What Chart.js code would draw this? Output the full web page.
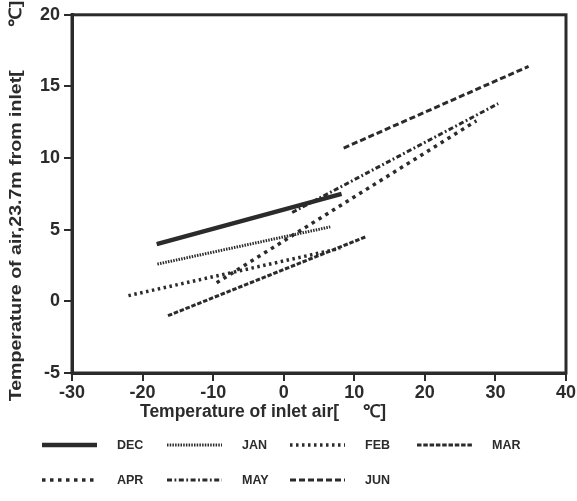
<!DOCTYPE html>
<html>
<head>
<meta charset="utf-8">
<script src="https://cdn.jsdelivr.net/npm/chart.js@4.4.1/dist/chart.umd.min.js"></script>
<style>
  html,body{margin:0;padding:0;background:#fff}
  #wrap{position:relative;width:577px;height:501px}
</style>
</head>
<body>
<div id="wrap"><canvas id="c" width="577" height="501"></canvas></div>
<script>
// regression lines per month: inlet air temp (x) vs air temp 23.7m from inlet (y)
const months     = ['DEC', 'JAN', 'FEB', 'MAR', 'APR', 'MAY', 'JUN'];
const inletFrom  = [-18.0, -17.9, -22.0, -16.4, -9.5, 1.2, 8.5];
const inletTo    = [  8.2,   6.6,   8.0,  11.6, 27.3, 30.4, 34.7];
const airFrom    = [  4.0,   2.6,   0.4,  -1.0,  1.3,  6.2, 10.7];
const airTo      = [  7.5,   5.2,   3.7,   4.5, 12.6, 13.8, 16.4];
const xTicks     = [-30, -20, -10, 0, 10, 20, 30, 40];
const yTicks     = [-5, 0, 5, 10, 15, 20];

const INK  = '#2b2b2b';
const FONT = "'Liberation Sans', Arial, Helvetica, sans-serif";

// line style per month
const styles = [
  { w: 4.5, dash: [] },
  { w: 3,   dash: [1.5, 1.2] },
  { w: 3.5, dash: [2.5, 3.5] },
  { w: 3,   dash: [4.5, 1.8] },
  { w: 3.5, dash: [3.5, 4.5] },
  { w: 3,   dash: [5, 2.5, 1.8, 2.5] },
  { w: 3,   dash: [6, 3] },
];

const datasets = months.map((m, i) => ({
  label: m,
  data: [{ x: inletFrom[i], y: airFrom[i] }, { x: inletTo[i], y: airTo[i] }],
  showLine: true,
  borderColor: INK,
  borderWidth: styles[i].w,
  borderDash: styles[i].dash,
  borderCapStyle: 'butt',
  pointRadius: 0,
  fill: false,
}));

// box around the plot, axis titles and two-row legend underneath
const decor = {
  id: 'decor',
  afterDraw(chart) {
    const { ctx, chartArea: a } = chart;
    ctx.save();
    ctx.strokeStyle = INK;
    ctx.lineWidth = 3;
    ctx.strokeRect(a.left, a.top, a.right - a.left, a.bottom - a.top);

    ctx.fillStyle = INK;
    ctx.textBaseline = 'middle';

    ctx.font = `bold 17.5px ${FONT}`;
    ctx.textAlign = 'left';
    ctx.fillText('Temperature of inlet air[     \u2103]', 140, 412);

    ctx.font = `bold 17px ${FONT}`;
    ctx.textAlign = 'center';
    ctx.save();
    ctx.translate(16, 201);
    ctx.rotate(-Math.PI / 2);
    ctx.scale(1.15, 1);
    ctx.fillText('Temperature of air,23.7m from inlet[        \u2103]', 0, 0);
    ctx.restore();

    const cols = [42, 167, 290, 417];
    const rows = [445, 480];
    ctx.font = `bold 12.5px ${FONT}`;
    ctx.textAlign = 'left';
    chart.data.datasets.forEach((ds, i) => {
      const x = cols[i % 4], y = rows[Math.floor(i / 4)];
      ctx.lineWidth = ds.borderWidth;
      ctx.setLineDash(ds.borderDash);
      ctx.beginPath();
      ctx.moveTo(x, y);
      ctx.lineTo(x + 55, y);
      ctx.stroke();
      ctx.setLineDash([]);
      ctx.fillText(ds.label, x + 75, y + 1);
    });
    ctx.restore();
  }
};

const tickFont = { family: FONT, weight: 'bold', size: 18 };

new Chart(document.getElementById('c'), {
  type: 'scatter',
  data: { datasets },
  plugins: [decor],
  options: {
    responsive: false,
    animation: false,
    layout: { padding: { left: 0, right: 10, top: 13, bottom: 80 } },
    plugins: { legend: { display: false }, tooltip: { enabled: false } },
    scales: {
      x: {
        type: 'linear', min: xTicks[0], max: xTicks[xTicks.length - 1],
        afterBuildTicks: s => { s.ticks = xTicks.map(v => ({ value: v })); },
        afterFit: s => { s.height = 48; },
        ticks: { color: INK, font: tickFont, padding: 1 },
        grid: { drawOnChartArea: false, drawTicks: true, tickLength: 8, color: INK, lineWidth: 2 },
        border: { display: true, color: INK, width: 3 },
      },
      y: {
        type: 'linear', min: yTicks[0], max: yTicks[yTicks.length - 1],
        afterBuildTicks: s => { s.ticks = yTicks.map(v => ({ value: v })); },
        afterFit: s => { s.width = 72; },
        ticks: { color: INK, font: tickFont, padding: 4 },
        grid: { drawOnChartArea: false, drawTicks: true, tickLength: 8, color: INK, lineWidth: 2 },
        border: { display: true, color: INK, width: 3 },
      },
    },
  },
});
</script>
</body>
</html>
